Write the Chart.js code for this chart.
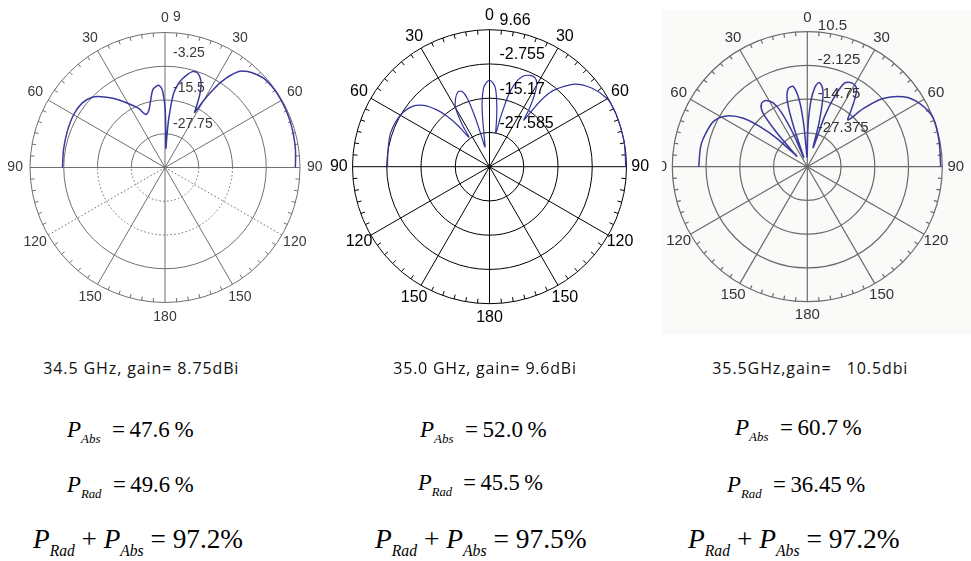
<!DOCTYPE html>
<html lang="en">
<head>
<meta charset="utf-8">
<title>Radiation patterns 34.5 – 35.5 GHz</title>
<script src="https://cdn.jsdelivr.net/npm/chart.js@4.4.1/dist/chart.umd.min.js"></script>
<style>
  html, body { margin: 0; padding: 0; background: #fff; }
  body { position: relative; width: 971px; height: 561px; overflow: hidden; }
  canvas { position: absolute; display: block; }
  #patA { left: 0; top: 0; filter: blur(0.45px); }
  #patB { left: 330px; top: 0; }
  #patC { left: 662px; top: 10px; filter: blur(0.55px); }
  .cap { position: absolute; font-family: "Open Sans", "Noto Sans", sans-serif; font-size: 16px; line-height: 1; color: #111; white-space: pre; }
  .eq { position: absolute; font-family: "Liberation Serif", "Times New Roman", Times, "DejaVu Serif", serif; line-height: 1; color: #000; white-space: pre; transform-origin: 0 0; }
  .eq i { font-style: italic; }
  .eq .sb { font-style: italic; position: relative; }
</style>
</head>
<body>
<canvas id="patA" width="330" height="345"></canvas>
<canvas id="patB" width="325" height="345"></canvas>
<canvas id="patC" width="309" height="325"></canvas>
<div id="notes"></div>
<script>
// Centre of every pattern plot (dB)
const FLOOR_DB = -40;
// Angle tick labels (mirrored on both sides of boresight)
const angleTicks = [0, 30, 60, 90, 120, 150, 180];

// ---- 34.5 GHz pattern: angle (deg, negative = left) / gain (dB) ----
const thetaA = [-90, -80, -70, -60, -52, -46, -42, -37, -33, -28,
                -24, -20, -16, -12, -9, -6, -4, -2, 0, 1,
                2.5, 3.5, 4.5, 6.5, 9, 11, 13.5, 16, 18.5, 21,
                23.5, 25.5, 27, 28.3, 29.5, 31, 33.5, 37.5, 41, 44,
                48, 53, 58, 64, 70, 76, 82, 88, 90];
const gainA  = [-2.8, -2.6, -2.2, -1.7, -1.9, -3.3, -5.4, -8.5, -11.2, -14.3,
                -16.5, -19.5, -18.6, -15, -11.5, -10.3, -10.2, -11.8, -18.1, -25.4,
                -33, -28.3, -21.7, -13.3, -9.3, -7.3, -5.3, -3.8, -3.6, -4.7,
                -7.1, -10.7, -14.4, -17.3, -13.7, -8.9, -2.4, 3.9, 6.1, 7.2,
                8.3, 8.7, 8.75, 8.6, 8.4, 8.1, 7.8, 7.4, 7.3];
const ringsA = ['-27.75', '-15.5', '-3.25', '9'];

// ---- 35.0 GHz pattern ----
const thetaB = [-90, -80, -71, -60, -52, -47, -43, -40, -37.5, -35,
                -33, -30, -26.5, -23, -20, -18, -16.5, -15, -13,
                -10, -8, -6.5, -4, 0, 4, 6.5, 8.5, 10.8,
                12.5, 14.8, 17, 20, 24, 27, 29.5, 32, 34.5, 36.4,
                37.5, 39, 41.3, 46, 52.6, 60, 65, 71, 80, 90];
const gainB  = [-3.0, -2.7, -2.1, -2.7, -4.5, -7.4, -11.7, -16.1, -21.2, -27,
                -21.9, -15.4, -12.4, -10.6, -11, -13.9, -20, -27.3, -32.7,
                -29, -21.9, -16.4, -11, -8.6, -11, -16.8, -22.6, -27.7,
                -21.9, -13.2, -8.5, -5.2, -3.75, -3.75, -5.2, -9.2, -14.6, -19,
                -11, -5.6, -2.2, 3.1, 6.8, 9.3, 9.66, 9.66, 9.6, 9.4];
const ringsB = ['-27.585', '-15.17', '-2.755', '9.66'];

// ---- 35.5 GHz pattern ----
const thetaC = [-90, -80, -74.7, -64.4, -57.8, -52.9, -49.8, -47.1, -45,
                -44, -42, -39.5, -36, -32, -28, -25.5, -23, -21,
                -19, -17, -14, -10, -7, -5, -3,
                -1, 1, 3, 5.5, 8, 11, 13, 15, 17,
                19, 21, 24, 28, 32, 35, 38, 41,
                44, 48, 54, 60.6, 69, 79, 90];
const gainC  = [0.6, 0.6, 0.3, -1, -4.4, -10, -16.8, -24.4, -34.4,
                -32.5, -23.2, -13.8, -10.8, -10.8, -13.1, -17.6, -26.9, -36.3,
                -25, -14.6, -10.1, -9.5, -14.6, -23.2, -34.4,
                -36.3, -25, -15.7, -10.1, -8.2, -10.1, -14.6, -23.2, -32.5,
                -20, -12.5, -5.8, -4.5, -5.3, -9, -13.5, -16.8,
                -9.7, -1.9, 4.5, 8.2, 10.5, 10.2, 9.9];
const ringsC = ['-27.375', '-14.75', '-2.125', '10.5'];

// ---- captions and power balance ----
const freqLabels = ['34.5 GHz, gain= 8.75dBi', '35.0 GHz, gain= 9.6dBi', '35.5GHz,gain=   10.5dbi'];
const absorbed = ['47.6', '52.0', '60.7'];
const radiated = ['49.6', '45.5', '36.45'];
const total    = ['97.2', '97.5', '97.2'];

// Polar frame: rings, spokes, degree ticks and labels, drawn from the chart's own x/y scales
function polarFrame(style, rings) {
  const geo = (chart) => {
    const x = chart.scales.x, y = chart.scales.y;
    const cx = x.getPixelForValue(0), cy = y.getPixelForValue(0);
    const R = x.getPixelForValue(1) - cx;
    const pt = (deg, r) => [cx + r * Math.sin(deg * Math.PI / 180), cy - r * Math.cos(deg * Math.PI / 180)];
    return { cx, cy, R, pt };
  };
  return {
    id: 'polarFrame',
    beforeDraw(chart) {
      if (!style.bg) return;
      const ctx = chart.ctx;
      ctx.save();
      ctx.fillStyle = style.bg;
      ctx.fillRect(0, 0, chart.width, chart.height);
      ctx.restore();
    },
    beforeDatasetsDraw(chart) {
      const { cx, cy, R, pt } = geo(chart);
      const ctx = chart.ctx;
      ctx.save();
      ctx.strokeStyle = style.grid;
      ctx.lineWidth = style.gridWidth;
      const n = rings.length;
      for (let k = 1; k <= n; k++) {
        const r = R * k / n;
        if (style.dashRings.includes(k)) {
          ctx.setLineDash([]);
          ctx.beginPath(); ctx.arc(cx, cy, r, Math.PI, 2 * Math.PI); ctx.stroke();
          ctx.setLineDash([1.6, 2.2]);
          ctx.beginPath(); ctx.arc(cx, cy, r, 0, Math.PI); ctx.stroke();
        } else {
          ctx.setLineDash([]);
          ctx.beginPath(); ctx.arc(cx, cy, r, 0, 2 * Math.PI); ctx.stroke();
        }
      }
      for (let a = 0; a < 360; a += 30) {
        ctx.setLineDash(style.dashSpokes.includes(a) ? [1.6, 2.2] : []);
        const [px, py] = pt(a, R);
        ctx.beginPath(); ctx.moveTo(cx, cy); ctx.lineTo(px, py); ctx.stroke();
      }
      ctx.setLineDash([]);
      for (let a = 0; a < 360; a += 5) {
        if (a % 30 === 0) continue;
        const [x0, y0] = pt(a, R);
        const [x1, y1] = pt(a, R - style.tick);
        ctx.beginPath(); ctx.moveTo(x0, y0); ctx.lineTo(x1, y1); ctx.stroke();
      }
      ctx.restore();
    },
    afterDatasetsDraw(chart) {
      const { cx, cy, R, pt } = geo(chart);
      const ctx = chart.ctx;
      ctx.save();
      ctx.fillStyle = style.text;
      ctx.font = style.font;
      ctx.textAlign = 'center';
      ctx.textBaseline = 'middle';
      angleTicks.forEach(t => {
        const sides = (t === 0 || t === 180) ? [t] : [t, -t];
        sides.forEach(a => {
          const [lx, ly] = pt(a, R * style.labelR);
          ctx.fillText(String(t), lx, ly);
        });
      });
      ctx.font = style.ringFont;
      ctx.textAlign = 'left';
      rings.forEach((lab, i) => {
        const r = R * (i + 1) / rings.length;
        ctx.fillText(lab, cx + style.ringDx, cy - r + style.ringDy0 + style.ringDyK * r);
      });
      ctx.restore();
    }
  };
}

function drawPattern(id, theta, gain, rings, geom, style) {
  const gMax = Number(rings[rings.length - 1]);
  const span = gMax - FLOOR_DB;
  const pts = theta.map((t, i) => {
    const rn = Math.max(0, (gain[i] - FLOOR_DB) / span);
    const a = t * Math.PI / 180;
    return { x: rn * Math.sin(a), y: rn * Math.cos(a) };
  });
  const canvas = document.getElementById(id);
  const W = canvas.width, H = canvas.height;
  return new Chart(canvas, {
    type: 'scatter',
    data: {
      datasets: [{
        data: pts,
        showLine: true,
        borderColor: style.curve,
        borderWidth: style.curveWidth,
        pointRadius: 0,
        tension: 0.3,
        fill: false
      }]
    },
    options: {
      responsive: false,
      animation: false,
      events: [],
      layout: { padding: 0 },
      plugins: { legend: { display: false }, tooltip: { enabled: false } },
      scales: {
        x: { type: 'linear', display: false, min: -geom.cx / geom.R, max: (W - geom.cx) / geom.R },
        y: { type: 'linear', display: false, min: -(H - geom.cy) / geom.R, max: geom.cy / geom.R }
      }
    },
    plugins: [polarFrame(style, rings)]
  });
}

const greyStyle = {
  grid: '#6f6f6f', gridWidth: 1, tick: 4, text: '#3a3a3a',
  font: '14px "Liberation Sans", Arial, sans-serif',
  ringFont: '14px "Liberation Sans", Arial, sans-serif',
  labelR: 1.11, curve: '#3a3a9e', curveWidth: 1.5
};

drawPattern('patA', thetaA, gainA, ringsA,
  { cx: 165, cy: 167.5, R: 135 },
  Object.assign({}, greyStyle, {
    dashRings: [1, 2], dashSpokes: [120, 240],
    ringDx: 8, ringDy0: -8, ringDyK: -0.055
  }));

drawPattern('patB', thetaB, gainB, ringsB,
  { cx: 159.5, cy: 166.7, R: 137 },
  {
    grid: '#000', gridWidth: 1, tick: 4.5, text: '#000',
    font: '16px "Liberation Sans", Arial, sans-serif',
    ringFont: '16px "Liberation Sans", Arial, sans-serif',
    labelR: 1.1, curve: '#33339c', curveWidth: 1.2,
    dashRings: [], dashSpokes: [],
    ringDx: 10, ringDy0: -9, ringDyK: 0
  });

drawPattern('patC', thetaC, gainC, ringsC,
  { cx: 145.3, cy: 156.7, R: 135 },
  Object.assign({}, greyStyle, {
    bg: '#fafaf8', grid: '#6a6a6a', gridWidth: 1.2, text: '#333',
    font: '15px "Liberation Sans", Arial, sans-serif',
    ringFont: '15px "Liberation Sans", Arial, sans-serif',
    labelR: 1.1,
    dashRings: [], dashSpokes: [],
    ringDx: 10.5, ringDy0: -5.5, ringDyK: 0
  }));

// ---- text block under each pattern ----
const columns = [
  { cap: [43.3, 196],  abs: [66.7, 126.6, 436.7], rad: [66.7, 126.6, 491.7], sum: [33.3, 210, 548.3] },
  { cap: [393.3, 183.4], abs: [420, 126.7, 436.7], rad: [418.3, 125, 490],  sum: [375, 211.7, 548.3] },
  { cap: [712.3, 196], abs: [735, 126.7, 435],   rad: [726.7, 138.3, 491.7], sum: [688.3, 211.7, 548.3] }
];
const CAP_SIZE = 16;
const CAP_BASELINE = 374;
const notes = document.getElementById('notes');
const fits = [];

function sub(txt, size, drop) {
  return `<span class="sb" style="font-size:${size}px;top:${drop}px">${txt}</span>`;
}
function addEq(html, pos, fs) {
  const el = document.createElement('div');
  el.className = 'eq';
  el.style.fontSize = fs + 'px';
  el.style.left = pos[0] + 'px';
  el.style.top = (pos[2] - 0.8375 * fs) + 'px';
  el.innerHTML = html;
  notes.appendChild(el);
  fits.push({ el, w: pos[1], mode: 'scale' });
}

columns.forEach((c, i) => {
  const cap = document.createElement('div');
  cap.className = 'cap';
  cap.textContent = freqLabels[i];
  cap.style.left = c.cap[0] + 'px';
  cap.style.top = (CAP_BASELINE - 0.888 * CAP_SIZE) + 'px';
  notes.appendChild(cap);
  fits.push({ el: cap, w: c.cap[1], mode: 'space' });

  addEq(`<i>P</i>${sub('Abs', 13.5, 6)}  =\u2009${absorbed[i]}\u2009%`, c.abs, 24);
  addEq(`<i>P</i>${sub('Rad', 13.5, 6)}  =\u2009${radiated[i]}\u2009%`, c.rad, 24);
  addEq(`<i>P</i>${sub('Rad', 16, 8)} + <i>P</i>${sub('Abs', 16, 8)} = ${total[i]}%`, c.sum, 28);
});

function fitAll() {
  fits.forEach(f => {
    f.el.style.transform = 'none';
    f.el.style.letterSpacing = '0px';
    const w = f.el.getBoundingClientRect().width;
    if (f.mode === 'scale') {
      f.el.style.transform = `scaleX(${f.w / w})`;
    } else {
      const n = f.el.textContent.length;
      f.el.style.letterSpacing = ((f.w - w) / n) + 'px';
    }
  });
}
fitAll();
if (document.fonts && document.fonts.ready) document.fonts.ready.then(fitAll);
</script>
</body>
</html>
